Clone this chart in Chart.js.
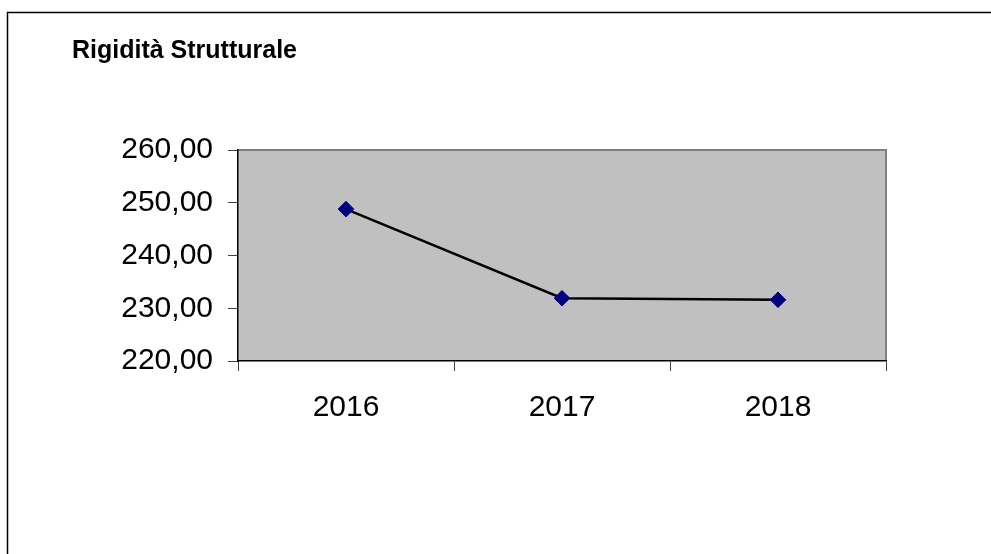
<!DOCTYPE html>
<html>
<head>
<meta charset="utf-8">
<title>Rigidità Strutturale</title>
<script src="https://cdn.jsdelivr.net/npm/chart.js@4.4.1/dist/chart.umd.min.js"></script>
<style>
  html, body { margin: 0; padding: 0; background: #fff; }
  #wrap { width: 991px; height: 554px; position: relative; }
</style>
</head>
<body>
<div id="wrap"><canvas id="chart" width="991" height="554"></canvas></div>
<script>
// --- data ---
const years = ['2016', '2017', '2018'];
const rigidita = [248.8, 231.9, 231.6];
const yMin = 220;
const yMax = 260;
const yStep = 10;

// grey plot background, grey frame on top/right, outer box round the whole chart
const plotFrame = {
  id: 'plotFrame',
  beforeDraw(chart) {
    const { ctx, chartArea: a } = chart;
    ctx.save();
    ctx.fillStyle = '#fff';
    ctx.fillRect(0, 0, chart.width, chart.height);
    ctx.strokeStyle = '#000';
    ctx.lineWidth = 1.5;
    ctx.strokeRect(7.5, 12.5, 1010, 600);
    ctx.fillStyle = '#C0C0C0';
    ctx.fillRect(a.left, a.top, a.right - a.left, a.bottom - a.top);
    ctx.strokeStyle = '#808080';
    ctx.lineWidth = 2;
    ctx.beginPath();
    ctx.moveTo(a.left, a.top);
    ctx.lineTo(a.right, a.top);
    ctx.lineTo(a.right, a.bottom);
    ctx.stroke();
    ctx.restore();
  }
};

const fontFamily = '"Liberation Sans", Arial, sans-serif';

new Chart(document.getElementById('chart'), {
  type: 'line',
  data: {
    labels: years,
    datasets: [{
      data: rigidita,
      borderColor: '#000',
      borderWidth: 2.5,
      tension: 0,
      pointStyle: 'rectRot',
      pointRadius: 7.8,
      pointBackgroundColor: '#000080',
      pointBorderColor: '#000080',
      pointBorderWidth: 1
    }]
  },
  options: {
    responsive: false,
    animation: false,
    layout: { padding: { left: 72, right: 105, top: 0, bottom: 0 } },
    plugins: {
      legend: { display: false },
      tooltip: { enabled: false },
      title: {
        display: true,
        text: 'Rigidità Strutturale',
        align: 'start',
        color: '#000',
        font: { family: fontFamily, size: 25, weight: 'bold', lineHeight: 1.2 },
        padding: { top: 36, bottom: 84 }
      }
    },
    scales: {
      x: {
        offset: true,
        grid: { offset: true, drawOnChartArea: false, drawTicks: true, tickLength: 10, color: '#404040' },
        border: { color: '#000', width: 1.5 },
        ticks: { color: '#000', padding: 19, font: { family: fontFamily, size: 30 } },
        afterFit(scale) { scale.height = 193; }
      },
      y: {
        min: yMin,
        max: yMax,
        grid: { drawOnChartArea: false, drawTicks: true, tickLength: 10, color: '#404040' },
        border: { color: '#000', width: 1.5 },
        ticks: {
          stepSize: yStep,
          color: '#000',
          padding: 15,
          font: { family: fontFamily, size: 30 },
          callback: v => v.toFixed(2).replace('.', ',')
        },
        afterFit(scale) { scale.width = 166; }
      }
    }
  },
  plugins: [plotFrame]
});
</script>
</body>
</html>
